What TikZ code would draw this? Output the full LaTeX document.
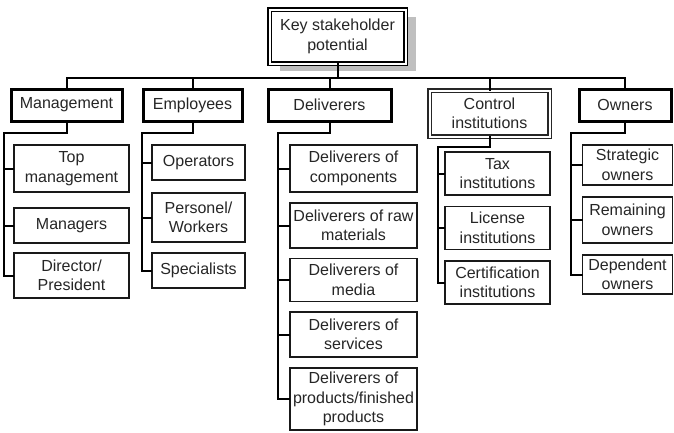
\documentclass[tikz,border=0pt]{standalone}
\usepackage{fontspec}
\setmainfont{Liberation Sans}
\usetikzlibrary{shadows}

\begin{document}
\begin{tikzpicture}[x=1pt,y=-1pt,font=\fontsize{16}{19.5}\selectfont,
   box/.style={rectangle,align=center,inner sep=0pt,fill=white,text=black!85},
   head/.style={box,draw=black,line width=3pt,minimum height=32pt},
   leaf/.style={box,draw=black!90,line width=1.8pt},
   link/.style={draw=black,line width=2pt,line cap=rect}]
   \useasboundingbox (0,0) rectangle (674,432);
   % Root with its grey shadow
   \node [box,draw=black,double,double distance=2pt,line width=1.5pt,
          minimum width=136pt,minimum height=54pt,
          drop shadow={shadow xshift=10pt,shadow yshift=-7pt,fill=black!25,opacity=1}]
          (top) at (337.5,36.5) {Key stakeholder\\potential};
   % Groups
   \node [head,minimum width=111pt] (mgmt)  at (66.5,105)  {Management};
   \node [head,minimum width=99pt]  (empl)  at (192.5,105) {Employees};
   \node [head,minimum width=123pt] (deliv) at (329.5,105) {Deliverers};
   \node [box,draw=black!85,double,double distance=2pt,line width=1.4pt,
          minimum width=120pt,minimum height=46pt]
          (ctrl) at (489.5,113.5) {Control\\institutions};
   \node [head,minimum width=92pt]  (own)   at (625,105)   {Owners};
   % Management
   \node [leaf,minimum width=115pt,minimum height=47pt] (topm) at (71.5,168.5) {Top\\management};
   \node [leaf,minimum width=115pt,minimum height=35pt] (mngr) at (71.5,225.5) {Managers};
   \node [leaf,minimum width=115pt,minimum height=45pt] (dirp) at (71.5,275.5) {Director/\\President};
   % Employees
   \node [leaf,minimum width=93pt,minimum height=35pt] (oper) at (198.5,162.5) {Operators};
   \node [leaf,minimum width=93pt,minimum height=49pt] (pers) at (198.5,217.5) {Personel/\\Workers};
   \node [leaf,minimum width=93pt,minimum height=35pt] (spec) at (198.5,270.5) {Specialists};
   % Deliverers
   \node [leaf,minimum width=127pt,minimum height=47pt] (dcomp) at (353.5,168.5) {Deliverers of\\components};
   \node [leaf,minimum width=127pt,minimum height=45pt] (draw)  at (353.5,225.5) {Deliverers of raw\\materials};
   \node [leaf,minimum width=127pt,minimum height=43pt] (dmed)  at (353.5,280)   {Deliverers of\\media};
   \node [leaf,minimum width=127pt,minimum height=45pt] (dserv) at (353.5,334.5) {Deliverers of\\services};
   \node [leaf,minimum width=127pt,minimum height=62pt] (dprod) at (353.5,399)   {Deliverers of\\products/finished\\products};
   % Control institutions
   \node [leaf,minimum width=105pt,minimum height=43pt] (tax)  at (497.5,173.5) {Tax\\institutions};
   \node [leaf,minimum width=105pt,minimum height=43pt] (lic)  at (497.5,228)   {License\\institutions};
   \node [leaf,minimum width=105pt,minimum height=43pt] (cert) at (497.5,282.5) {Certification\\institutions};
   % Owners
   \node [leaf,minimum width=90pt,minimum height=40pt] (strat) at (627.5,165)   {Strategic\\owners};
   \node [leaf,minimum width=90pt,minimum height=46pt] (rem)   at (627.5,220)   {Remaining\\owners};
   \node [leaf,minimum width=90pt,minimum height=39pt] (dep)   at (627.5,274.5) {Dependent\\owners};
   % Bus under the root
   \coordinate (bus) at (337.5,78);
   \draw [link] (top.south) -- (bus);
   \draw [link] (mgmt.north |- bus) -- (own.north |- bus);
   \foreach \n in {mgmt,empl,deliv,ctrl,own}
      \draw [link] (\n.north |- bus) -- (\n.north);
   % Rails down to the children
   \coordinate (mrail) at (4,133);
   \coordinate (erail) at (142,133);
   \coordinate (drail) at (278,133);
   \coordinate (crail) at (438,147);
   \coordinate (orail) at (571,133);
   \draw [link] (mgmt.south) |- (mrail);
   \draw [link] (empl.south) |- (erail);
   \draw [link] (deliv.south) |- (drail);
   \draw [link] (ctrl.south) |- (crail);
   \draw [link] (own.south) |- (orail);
   \foreach \c in {topm,mngr,dirp} \draw [link] (mrail) |- (\c.west);
   \foreach \c in {oper,pers,spec} \draw [link] (erail) |- (\c.west);
   \foreach \c in {dcomp,draw,dmed,dserv,dprod} \draw [link] (drail) |- (\c.west);
   \foreach \c in {tax,lic,cert} \draw [link] (crail) |- (\c.west);
   \foreach \c in {strat,rem,dep} \draw [link] (orail) |- (\c.west);
\end{tikzpicture}
\end{document}
